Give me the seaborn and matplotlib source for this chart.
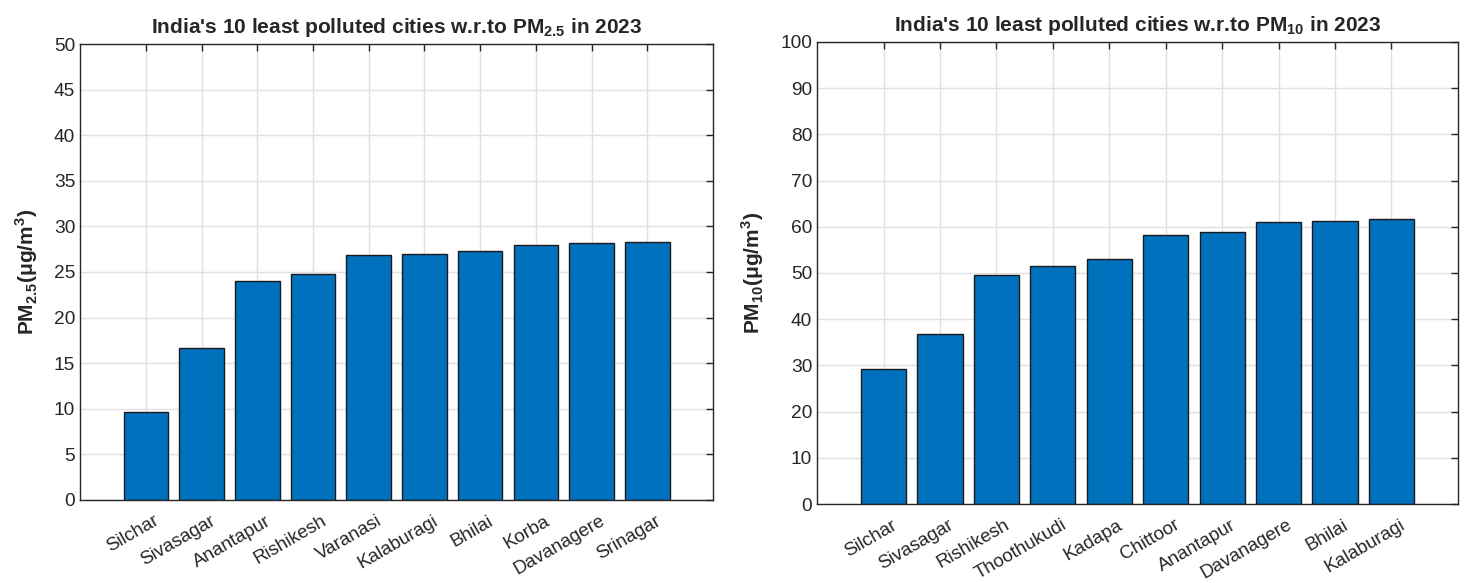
import matplotlib
matplotlib.use("Agg")
import matplotlib.pyplot as plt
import matplotlib.transforms as mtransforms
import seaborn as sns
import pandas as pd

# PM2.5 cities and values (ug/m3)
cities_pm25 = ["Silchar", "Sivasagar", "Anantapur", "Rishikesh", "Varanasi",
               "Kalaburagi", "Bhilai", "Korba", "Davanagere", "Srinagar"]
values_pm25 = [9.6, 16.7, 24.0, 24.8, 26.9, 27.0, 27.3, 28.0, 28.2, 28.3]

# PM10 cities and values (ug/m3)
cities_pm10 = ["Silchar", "Sivasagar", "Rishikesh", "Thoothukudi", "Kadapa",
               "Chittoor", "Anantapur", "Davanagere", "Bhilai", "Kalaburagi"]
values_pm10 = [29.2, 36.9, 49.6, 51.5, 53.0, 58.3, 58.9, 61.1, 61.3, 61.7]

sns.set_style("white")
plt.rcParams["font.family"] = ["Liberation Sans", "DejaVu Sans"]
plt.rcParams["mathtext.fontset"] = "custom"
plt.rcParams["mathtext.rm"] = "Liberation Sans"
plt.rcParams["mathtext.bf"] = "Liberation Sans:bold"

bar_color = "#0072BD"
dark = "#262626"

fig = plt.figure(figsize=(14.66, 5.83), dpi=100)
ax1 = fig.add_axes([0.0546, 0.1424, 0.4318, 0.7821])
ax2 = fig.add_axes([0.5573, 0.1355, 0.4372, 0.7925])


def draw(ax, cities, values, ymax, ystep, title, ylabel):
    df = pd.DataFrame({"city": cities, "value": values})
    sns.barplot(data=df, x="city", y="value", color=bar_color, saturation=1,
                width=0.8, edgecolor="#1a1a1a", linewidth=1.0, ax=ax, zorder=3)
    ax.set_xlim(-1.18, 10.18)
    ax.set_ylim(0, ymax)
    ax.set_yticks(range(0, ymax + 1, ystep))
    ax.set_axisbelow(True)
    ax.grid(True, color="#e0e0e0", linewidth=1.0, zorder=0)
    for s in ax.spines.values():
        s.set_visible(True)
        s.set_color(dark)
        s.set_linewidth(1.0)
        s.set_zorder(5)
    ax.tick_params(axis="both", direction="in", length=5, width=1.0,
                   color=dark, labelcolor=dark, labelsize=13.8,
                   top=True, right=True, zorder=5)
    ax.tick_params(axis="x", pad=9, labelsize=13.5)
    shift = mtransforms.ScaledTranslation(8 / 100, 0, fig.dpi_scale_trans)
    for lab in ax.get_xticklabels():
        lab.set_rotation(30)
        lab.set_ha("right")
        lab.set_rotation_mode("anchor")
        lab.set_transform(lab.get_transform() + shift)
    ax.set_xlabel("")
    ax.set_ylabel(ylabel, fontsize=15, fontweight="bold", color=dark,
                  labelpad=10)
    ax.set_title(title, fontsize=15, fontweight="bold", color=dark, pad=8)


draw(ax1, cities_pm25, values_pm25, 50, 5,
     r"India's 10 least polluted cities w.r.to PM$_{\mathbf{2.5}}$ in 2023",
     r"PM$_{\mathbf{2.5}}$($\mathbf{\mu}$g/m$^{\mathbf{3}}$)")
draw(ax2, cities_pm10, values_pm10, 100, 10,
     r"India's 10 least polluted cities w.r.to PM$_{\mathbf{10}}$ in 2023",
     r"PM$_{\mathbf{10}}$($\mathbf{\mu}$g/m$^{\mathbf{3}}$)")

fig.savefig("out.png", dpi=100, facecolor="white")
